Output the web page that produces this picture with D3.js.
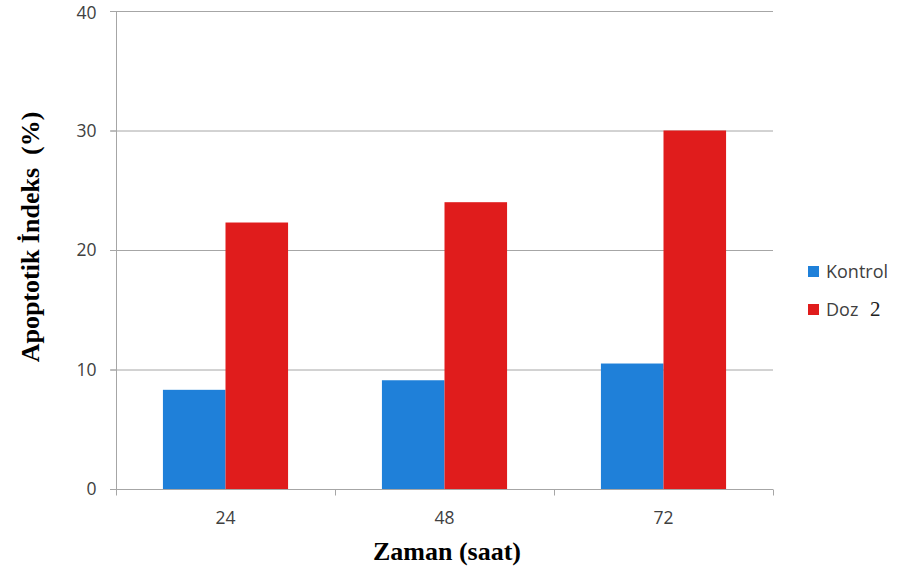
<!DOCTYPE html>
<html>
<head>
<meta charset="utf-8">
<script src="https://cdn.jsdelivr.net/npm/d3@7"></script>
<style>
  html, body { margin: 0; padding: 0; background: #fff; }
  svg { display: block; }
</style>
</head>
<body>
<svg id="chart" width="900" height="577"></svg>
<script>
const categories = ["24", "48", "72"];
const seriesNames = ["Kontrol", "Doz"];
const kontrol = [8.3, 9.1, 10.5];
const doz = [22.3, 24.0, 30.0];
const yTicks = [0, 10, 20, 30, 40];
const colors = ["#1f80d9", "#e01c1c"];

const svg = d3.select("#chart");
const plotLeft = 116, plotRight = 773, plotTop = 11, plotBottom = 489;

const x0 = d3.scaleBand().domain(categories).range([plotLeft, plotRight]).paddingInner(0).paddingOuter(0);
const x1 = d3.scaleBand().domain(seriesNames).range([0, x0.bandwidth()]).paddingInner(0).paddingOuter(0.75);
const y = d3.scaleLinear().domain([0, 40]).range([plotBottom, plotTop]);

const gridColor = "#a6a6a6";

// gridlines
svg.append("g").selectAll("line").data(yTicks.filter(d => d > 0)).join("line")
  .attr("x1", plotLeft - 6).attr("x2", plotRight)
  .attr("y1", d => y(d) + 0.5).attr("y2", d => y(d) + 0.5)
  .attr("stroke", gridColor).attr("stroke-width", 1);

// bars
const data = categories.map((c, i) => ({ cat: c, vals: [kontrol[i], doz[i]] }));
const groups = svg.append("g").selectAll("g").data(data).join("g")
  .attr("transform", d => `translate(${x0(d.cat)},0)`);
groups.selectAll("rect").data(d => d.vals.map((v, j) => ({ s: seriesNames[j], v, j })))
  .join("rect")
  .attr("x", d => x1(d.s))
  .attr("width", x1.bandwidth())
  .attr("y", d => y(d.v))
  .attr("height", d => y(0) - y(d.v))
  .attr("fill", d => colors[d.j]);

// y axis
const yAxis = d3.axisLeft(y).tickValues(yTicks).tickSize(6).tickPadding(14).tickFormat(d3.format("d"));
const gy = svg.append("g").attr("transform", `translate(${plotLeft + 0.5},0)`).call(yAxis);
gy.select(".domain").attr("stroke", gridColor).attr("d", `M-6,${plotTop + 0.5}H0V${plotBottom + 0.5}H-6`);
gy.selectAll(".tick line").attr("stroke", gridColor);
gy.selectAll(".tick text").attr("font-family", "'Open Sans', sans-serif").attr("font-size", 17.5).attr("fill", "#404040")
  .attr("y", d => d === 40 ? 2 : 0);

// x axis
const gx = svg.append("g").attr("transform", `translate(0,${plotBottom + 0.5})`);
gx.append("line").attr("x1", plotLeft - 6).attr("x2", plotRight).attr("stroke", gridColor);
const tickPos = categories.map(c => x0(c)).concat([x0(categories[categories.length - 1]) + x0.bandwidth()]);
gx.selectAll("line.tk").data(tickPos).join("line").attr("class", "tk")
  .attr("x1", d => d + 0.5).attr("x2", d => d + 0.5).attr("y1", 0).attr("y2", 6).attr("stroke", gridColor);
gx.selectAll("text").data(categories).join("text")
  .attr("x", d => x0(d) + x0.bandwidth() / 2)
  .attr("y", 34)
  .attr("text-anchor", "middle")
  .attr("font-family", "'Open Sans', sans-serif").attr("font-size", 17.5).attr("fill", "#404040")
  .text(d => d);

// axis titles
svg.append("text")
  .attr("x", 447).attr("y", 560)
  .attr("text-anchor", "middle")
  .attr("font-family", "'Liberation Serif', 'Times New Roman', serif")
  .attr("font-weight", "bold").attr("font-size", 26).attr("fill", "#000")
  .text("Zaman (saat)");

svg.append("text")
  .attr("transform", "translate(39,237) rotate(-90)")
  .attr("text-anchor", "middle")
  .attr("font-family", "'Liberation Serif', 'Times New Roman', serif")
  .attr("font-weight", "bold").attr("font-size", 26).attr("fill", "#000")
  .attr("xml:space", "preserve")
  .text("Apoptotik İndeks  (%)");

// legend
const legend = svg.append("g");
const legendY = [266, 304];
seriesNames.forEach((s, i) => {
  legend.append("rect").attr("x", 808).attr("y", legendY[i]).attr("width", 11).attr("height", 11).attr("fill", colors[i]);
});
legend.append("text").attr("x", 826).attr("y", 278)
  .attr("font-family", "'Open Sans', sans-serif").attr("font-size", 18).attr("fill", "#404040")
  .text("Kontrol");
const t2 = legend.append("text").attr("x", 826).attr("y", 316)
  .attr("font-family", "'Open Sans', sans-serif").attr("font-size", 18).attr("fill", "#404040");
t2.append("tspan").text("Doz");
t2.append("tspan").attr("x", 870)
  .attr("font-family", "'Liberation Serif', 'Times New Roman', serif").attr("font-size", 21).attr("fill", "#202020")
  .text("2");
</script>
</body>
</html>
